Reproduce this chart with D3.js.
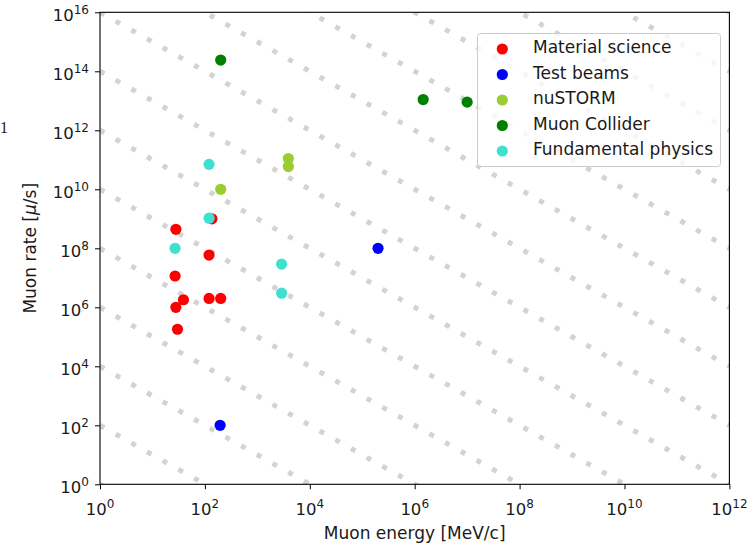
<!DOCTYPE html>
<html>
<head>
<meta charset="utf-8">
<script src="https://cdn.jsdelivr.net/npm/d3@7"></script>
<style>
  html, body { margin: 0; padding: 0; background: #fff; }
  svg { display: block; }
  text { font-family: "DejaVu Sans", sans-serif; fill: #1a1a1a; }
</style>
</head>
<body>
<svg id="chart" width="756" height="545"></svg>
<script>
// ---- data ----
const seriesNames = ["Material science", "Test beams", "nuSTORM", "Muon Collider", "Fundamental physics"];
const seriesColors = ["#ff0000", "#0000ff", "#9acd32", "#008000", "#40e0d0"];

const materialE = [28, 120, 136, 27, 28, 39, 120, 200, 30];
const materialR = [4.4e8, 5.9e7, 1.0e9, 1.15e7, 1.0e6, 1.8e6, 2.0e6, 2.0e6, 1.8e5];

const testBeamE = [2.0e5, 195];
const testBeamR = [1.0e8, 1.0e2];

const nustormE = [200, 3.9e3, 3.9e3];
const nustormR = [1.0e10, 1.1e11, 5.9e10];

const colliderE = [200, 1.45e6, 1.0e7];
const colliderR = [2.4e14, 1.1e13, 9.0e12];

const fundamentalE = [120, 120, 27, 2.9e3, 2.9e3];
const fundamentalR = [7.0e10, 1.05e9, 1.0e8, 2.9e7, 3.0e6];

const xTickExps = [0, 2, 4, 6, 8, 10, 12];
const yTickExps = [0, 2, 4, 6, 8, 10, 12, 14, 16];
// guide lines: energy * rate = 10^k
const guideExps = [0, 2, 4, 6, 8, 10, 12, 14, 16, 18, 20, 22, 24, 26, 28];

const xLabel = "Muon energy [MeV/c]";

// ---- layout ----
const svg = d3.select("#chart");
const L = 100, R = 729.4, T = 12.3, B = 484.3;
const x = d3.scaleLog().domain([1, 1e12]).range([L, R]);
const y = d3.scaleLog().domain([1, 1e16]).range([B, T]);

svg.append("defs").append("clipPath").attr("id", "plotclip")
  .append("rect").attr("x", L).attr("y", T).attr("width", R - L).attr("height", B - T);

// guide lines
const lineGen = d3.line().x(d => x(d[0])).y(d => y(d[1]));
const gGuides = svg.append("g").attr("clip-path", "url(#plotclip)");
guideExps.forEach(k => {
  const pts = [[1, Math.pow(10, k)], [1e12, Math.pow(10, k - 12)]];
  gGuides.append("path")
    .attr("d", lineGen(pts))
    .attr("fill", "none")
    .attr("stroke", "#d3d3d3")
    .attr("stroke-width", 5)
    .attr("stroke-dasharray", "5 13");
});

// points
const series = [
  [materialE, materialR],
  [testBeamE, testBeamR],
  [nustormE, nustormR],
  [colliderE, colliderR],
  [fundamentalE, fundamentalR]
];
const gPts = svg.append("g").attr("clip-path", "url(#plotclip)");
series.forEach((s, i) => {
  const pts = s[0].map((e, j) => [e, s[1][j]]);
  gPts.selectAll(null).data(pts).enter().append("circle")
    .attr("cx", d => x(d[0]))
    .attr("cy", d => y(d[1]))
    .attr("r", 5.6)
    .attr("fill", seriesColors[i]);
});

// axes
const xAxis = svg.append("g").attr("transform", `translate(0,${B})`)
  .call(d3.axisBottom(x).tickValues(xTickExps.map(e => Math.pow(10, e))).tickSize(5).tickFormat(""));
const yAxis = svg.append("g").attr("transform", `translate(${L},0)`)
  .call(d3.axisLeft(y).tickValues(yTickExps.map(e => Math.pow(10, e))).tickSize(5).tickFormat(""));
[xAxis, yAxis].forEach(a => {
  a.select(".domain").remove();
  a.selectAll(".tick line").attr("stroke", "#000").attr("stroke-width", 1);
});

// frame
svg.append("rect").attr("x", L).attr("y", T).attr("width", R - L).attr("height", B - T)
  .attr("fill", "none").attr("stroke", "#000").attr("stroke-width", 1.1);

// tick labels
xTickExps.forEach(e => {
  const t = svg.append("text")
    .attr("x", x(Math.pow(10, e)))
    .attr("y", 515)
    .attr("text-anchor", "middle")
    .style("font-size", "16.5px");
  t.append("tspan").text("10");
  t.append("tspan").attr("dy", -7).style("font-size", "12px").text(e);
});
yTickExps.forEach(e => {
  const t = svg.append("text")
    .attr("x", 89)
    .attr("y", y(Math.pow(10, e)) + 9)
    .attr("text-anchor", "end")
    .style("font-size", "16.5px");
  t.append("tspan").text("10");
  t.append("tspan").attr("dy", -7).style("font-size", "12px").text(e);
});

// axis labels
svg.append("text")
  .attr("x", (L + R) / 2).attr("y", 539)
  .attr("text-anchor", "middle")
  .style("font-size", "17px")
  .text(xLabel);

const yl = svg.append("text")
  .attr("transform", `translate(36,${(T + B) / 2}) rotate(-90)`)
  .attr("text-anchor", "middle")
  .style("font-size", "17px");
yl.append("tspan").text("Muon rate [");
yl.append("tspan").style("font-style", "italic").text("\u03bc");
yl.append("tspan").text("/s]");

// stray glyph at left
svg.append("text").attr("x", 0).attr("y", 133)
  .style("font-family", "'Liberation Serif', serif").style("font-size", "16px")
  .text("1");

// legend
const lg = svg.append("g");
lg.append("rect")
  .attr("x", 477.5).attr("y", 33.5).attr("width", 243).attr("height", 133)
  .attr("rx", 3).attr("ry", 3)
  .attr("fill", "#fff").attr("fill-opacity", 0.8)
  .attr("stroke", "#cccccc").attr("stroke-width", 1);
seriesNames.forEach((n, i) => {
  const cy = 49 + i * 25.5;
  lg.append("circle").attr("cx", 502.3).attr("cy", cy).attr("r", 5.6).attr("fill", seriesColors[i]);
  lg.append("text").attr("x", 533).attr("y", cy + 4).style("font-size", "17px").text(n);
});
</script>
</body>
</html>
